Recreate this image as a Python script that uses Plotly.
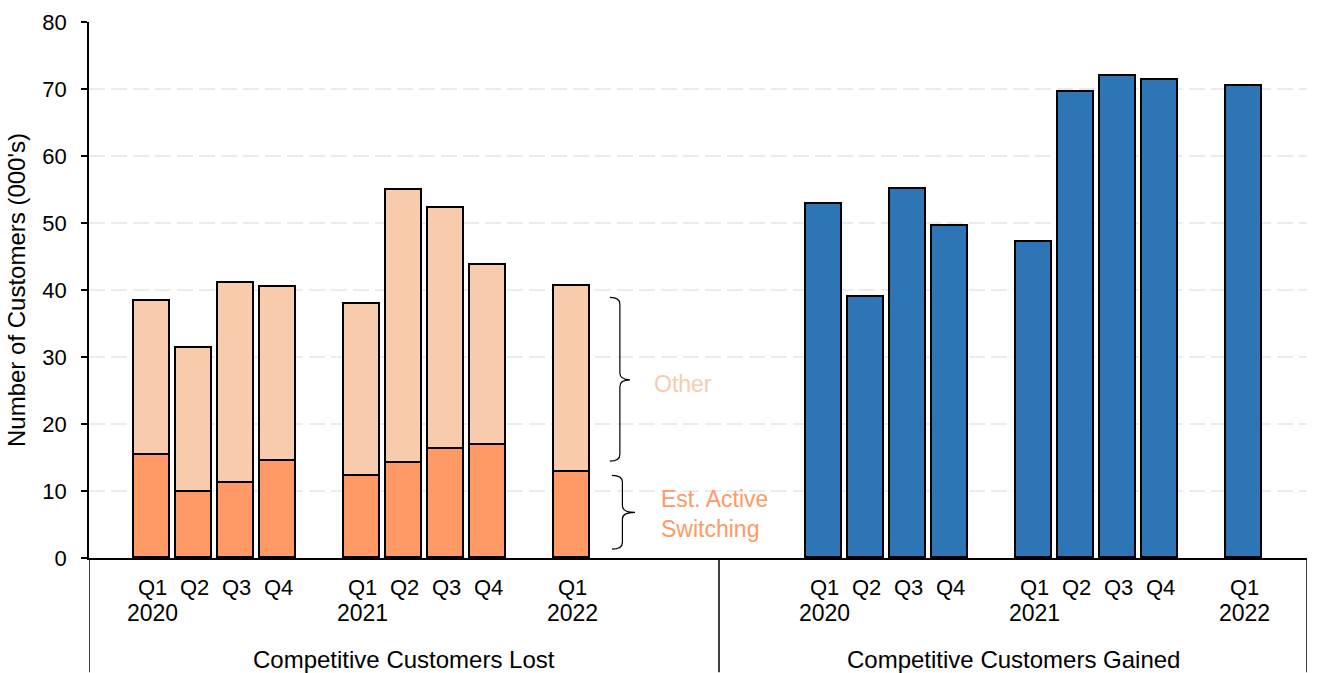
import plotly.graph_objects as go

# Quarterly periods (shared by both panels)
quarters = ["Q1", "Q2", "Q3", "Q4", "Q1", "Q2", "Q3", "Q4", "Q1"]
years = ["2020", "", "", "", "2021", "", "", "", "2022"]

# Competitive customers lost (000's), split into two components
lost_active_switching = [15.4, 9.8, 11.2, 14.5, 12.2, 14.2, 16.3, 16.9, 12.8]
lost_other = [23.0, 21.6, 29.9, 26.0, 25.7, 40.8, 35.9, 26.9, 27.8]

# Competitive customers gained (000's)
gained = [52.9, 38.9, 55.1, 49.5, 47.2, 69.6, 72.0, 71.3, 70.4]

group_names = ["Competitive Customers Lost", "Competitive Customers Gained"]
y_ticks = [0, 10, 20, 30, 40, 50, 60, 70, 80]

# Slot layout: one slot per quarter, an empty slot between years,
# and a wider gap between the two panels.
GROUP_OFFSETS = [0, 16]
X_MIN, X_MAX, DIVIDER = -1.5, 27.5, 13.5
BAR_W = 0.84


def slots(offset):
    return [offset + i + i // 4 for i in range(len(quarters))]


lost_x = slots(GROUP_OFFSETS[0])
gain_x = slots(GROUP_OFFSETS[1])

C_ACTIVE = "#FF9966"
C_OTHER = "#F8CBAD"
C_GAINED = "#2E75B6"
FONT = "Liberation Sans, Arial, sans-serif"
FS_TICK = 22
FS_Q = 22
FS_YEAR = 23
FS_GROUP = 24
FS_TITLE = 24
FS_NOTE = 23

outline = dict(color="black", width=1.8)

fig = go.Figure()
fig.add_trace(go.Bar(x=lost_x, y=lost_active_switching, width=BAR_W,
                     marker=dict(color=C_ACTIVE, line=outline),
                     name="Est. Active Switching"))
fig.add_trace(go.Bar(x=lost_x, y=lost_other, width=BAR_W,
                     marker=dict(color=C_OTHER, line=outline),
                     name="Other"))
fig.add_trace(go.Bar(x=gain_x, y=gained, width=BAR_W,
                     marker=dict(color=C_GAINED, line=outline),
                     name="Gained"))

annotations = []
# Quarter / year labels under each bar
for xs in (lost_x, gain_x):
    for x, q, yr in zip(xs, quarters, years):
        annotations.append(dict(x=x, y=0, xref="x", yref="paper", text=q,
                                showarrow=False, yanchor="middle", yshift=-29,
                                font=dict(size=FS_Q, color="black")))
        if yr:
            annotations.append(dict(x=x, y=0, xref="x", yref="paper", text=yr,
                                    showarrow=False, yanchor="middle", yshift=-55,
                                    font=dict(size=FS_YEAR, color="black")))
# Panel names
for (lo, hi), name in zip([(X_MIN, DIVIDER), (DIVIDER, X_MAX)], group_names):
    annotations.append(dict(x=(lo + hi) / 2, y=0, xref="x", yref="paper", text=name,
                            showarrow=False, yanchor="middle", yshift=-101,
                            font=dict(size=FS_GROUP, color="black")))

# Component labels beside the braces
annotations.append(dict(x=12.64, y=26.0, xref="x", yref="y", text="Other",
                        showarrow=False, font=dict(size=FS_NOTE, color=C_OTHER)))
annotations.append(dict(x=12.07, y=6.64, xref="x", yref="y",
                        text="Est. Active<br>Switching", align="left",
                        xanchor="left", showarrow=False,
                        font=dict(size=FS_NOTE, color=C_ACTIVE)))


def brace(xl, xv, xt, ytop, ymid, ybot, r=1.0):
    return (f"M {xl},{ytop} Q {xv},{ytop} {xv},{ytop - r} "
            f"L {xv},{ymid + r} Q {xv},{ymid} {xt},{ymid} "
            f"Q {xv},{ymid} {xv},{ymid - r} "
            f"L {xv},{ybot + r} Q {xv},{ybot} {xl},{ybot}")


shapes = [
    dict(type="path", xref="x", yref="y",
         path=brace(10.9, 11.14, 11.38, 38.9, 26.6, 14.46),
         line=dict(color="black", width=1.2)),
    dict(type="path", xref="x", yref="y",
         path=brace(10.95, 11.2, 11.5, 12.34, 6.8, 1.33),
         line=dict(color="black", width=1.2)),
]
# Panel separators below the axis
for xv in (X_MIN, DIVIDER, X_MAX):
    shapes.append(dict(type="line", xref="x", yref="paper", x0=xv, x1=xv,
                       y0=0, y1=-115 / 540, line=dict(color="black", width=1.5)))

fig.update_layout(
    width=1317, height=673,
    margin=dict(l=89, r=10, t=18, b=115),
    paper_bgcolor="white", plot_bgcolor="white",
    barmode="stack", bargap=0, showlegend=False,
    font=dict(family=FONT, size=FS_TICK, color="black"),
    annotations=annotations, shapes=shapes,
    xaxis=dict(range=[X_MIN, X_MAX], showticklabels=False, ticks="",
               showgrid=False, zeroline=False, showline=True,
               linecolor="black", linewidth=1.5, fixedrange=True),
    yaxis=dict(range=[0, 80], tickvals=y_ticks, ticks="outside", ticklen=6,
               tickcolor="black", tickwidth=1.5, showline=True,
               linecolor="black", linewidth=1.5, zeroline=False,
               showgrid=True, gridcolor="#EBEBEB", gridwidth=1.5,
               griddash="16px,6px", ticklabelstandoff=10,
               tickfont=dict(size=FS_TICK),
               title=dict(text="Number of Customers (000's)", standoff=10,
                          font=dict(size=FS_TITLE))),
)

fig.write_html("out.html")
